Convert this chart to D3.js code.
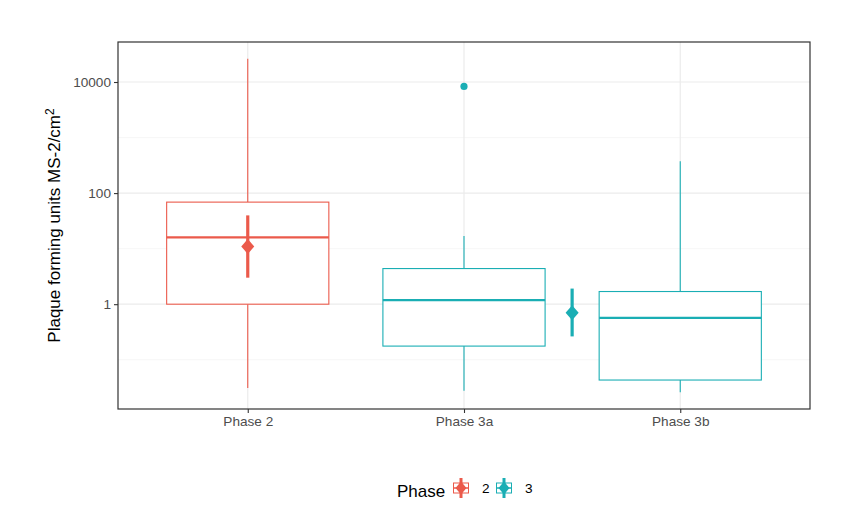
<!DOCTYPE html>
<html>
<head>
<meta charset="utf-8">
<script src="https://cdn.jsdelivr.net/npm/d3@7"></script>
<style>
  body { margin: 0; background: #fff; }
  svg { font-family: "Liberation Sans", Arial, sans-serif; }
</style>
</head>
<body>
<div id="canvas"></div>
<script>
// box summaries (log scale)
const phases = ['Phase 2', 'Phase 3a', 'Phase 3b'];
const phaseGroup = ['2', '3', '3'];
const whiskerLow = [0.031, 0.0277, 0.0259];
const q1 = [1.0, 0.176, 0.0431];
const median = [16, 1.18, 0.567];
const q3 = [68.8, 4.38, 1.69];
const whiskerHigh = [26300, 16.9, 375];
const outliers = [[], [8340], []];

// mean +- CI per phase group
const groups = ['2', '3'];
const groupMean = [10.9, 0.698];
const groupLow = [3.0, 0.263];
const groupHigh = [39.7, 1.91];

const yTicks = [1, 100, 10000];
const yMinor = [0.1, 10, 1000];

const colors = { '2': '#EB5A4B', '3': '#1AAEB4' };

const w = 848;
const h = 510;
const pLeft = 118, pRight = 810, pTop = 42, pBottom = 409;

const svg = d3.select('#canvas')
  .append('svg')
  .attr('width', w)
  .attr('height', h);

const xScale = d3.scalePoint()
  .domain(phases)
  .range([pLeft, pRight])
  .padding(0.6);
const step = xScale.step();

// ggplot style 5% expansion in log space
const lo = Math.log10(d3.min(whiskerLow));
const hi = Math.log10(d3.max(whiskerHigh.concat(outliers.flat())));
const pad = (hi - lo) * 0.05;
const yScale = d3.scaleLog()
  .domain([Math.pow(10, lo - pad), Math.pow(10, hi + pad)])
  .range([pBottom, pTop]);

// grid
const grid = svg.append('g');
grid.selectAll('.minor')
  .data(yMinor)
  .enter()
  .append('line')
  .attr('x1', pLeft).attr('x2', pRight)
  .attr('y1', d => yScale(d)).attr('y2', d => yScale(d))
  .attr('stroke', '#F2F2F2')
  .attr('stroke-width', 0.7);
grid.selectAll('.major')
  .data(yTicks)
  .enter()
  .append('line')
  .attr('x1', pLeft).attr('x2', pRight)
  .attr('y1', d => yScale(d)).attr('y2', d => yScale(d))
  .attr('stroke', '#EBEBEB')
  .attr('stroke-width', 1.2);
grid.selectAll('.vmajor')
  .data(phases)
  .enter()
  .append('line')
  .attr('x1', d => xScale(d)).attr('x2', d => xScale(d))
  .attr('y1', pTop).attr('y2', pBottom)
  .attr('stroke', '#EBEBEB')
  .attr('stroke-width', 1.2);

// boxplots
const boxes = svg.selectAll('.box')
  .data(phases.map((p, i) => ({
    p: p, g: phaseGroup[i], wl: whiskerLow[i], q1: q1[i], med: median[i],
    q3: q3[i], wh: whiskerHigh[i], out: outliers[i]
  })))
  .enter()
  .append('g')
  .attr('class', 'box');
const bw = step * 0.75;

boxes.append('line')
  .attr('x1', d => xScale(d.p)).attr('x2', d => xScale(d.p))
  .attr('y1', d => yScale(d.q3)).attr('y2', d => yScale(d.wh))
  .attr('stroke', d => colors[d.g]).attr('stroke-width', 1.1);
boxes.append('line')
  .attr('x1', d => xScale(d.p)).attr('x2', d => xScale(d.p))
  .attr('y1', d => yScale(d.q1)).attr('y2', d => yScale(d.wl))
  .attr('stroke', d => colors[d.g]).attr('stroke-width', 1.1);
boxes.append('rect')
  .attr('x', d => xScale(d.p) - bw / 2)
  .attr('width', bw)
  .attr('y', d => yScale(d.q3))
  .attr('height', d => yScale(d.q1) - yScale(d.q3))
  .attr('fill', '#fff')
  .attr('stroke', d => colors[d.g]).attr('stroke-width', 1.1);
boxes.append('line')
  .attr('x1', d => xScale(d.p) - bw / 2).attr('x2', d => xScale(d.p) + bw / 2)
  .attr('y1', d => yScale(d.med)).attr('y2', d => yScale(d.med))
  .attr('stroke', d => colors[d.g]).attr('stroke-width', 2.3);
boxes.selectAll('circle')
  .data(d => d.out.map(v => ({ v: v, p: d.p, g: d.g })))
  .enter()
  .append('circle')
  .attr('cx', d => xScale(d.p))
  .attr('cy', d => yScale(d.v))
  .attr('r', 3.6)
  .attr('fill', d => colors[d.g]);

// mean point ranges, placed between the phases of each group
const diamond = 'M0,-7.5L6.5,0L0,7.5L-6.5,0Z';
const means = svg.selectAll('.mean')
  .data(groups.map((g, i) => ({
    g: g, m: groupMean[i], lo: groupLow[i], hi: groupHigh[i],
    x: d3.mean(phases.filter((p, j) => phaseGroup[j] === g), p => xScale(p))
  })))
  .enter()
  .append('g')
  .attr('class', 'mean');
means.append('line')
  .attr('x1', d => d.x).attr('x2', d => d.x)
  .attr('y1', d => yScale(d.lo)).attr('y2', d => yScale(d.hi))
  .attr('stroke', d => colors[d.g]).attr('stroke-width', 3.2);
means.append('path')
  .attr('d', diamond)
  .attr('transform', d => 'translate(' + d.x + ',' + yScale(d.m) + ')')
  .attr('fill', d => colors[d.g]);

// panel border
svg.append('rect')
  .attr('x', pLeft).attr('y', pTop)
  .attr('width', pRight - pLeft).attr('height', pBottom - pTop)
  .attr('fill', 'none')
  .attr('stroke', '#333')
  .attr('stroke-width', 1.2);

// axes
const xAxis = d3.axisBottom(xScale).tickSize(4).tickPadding(3);
const yAxis = d3.axisLeft(yScale).tickValues(yTicks).tickFormat(d3.format('d')).tickSize(4).tickPadding(3);

const gx = svg.append('g')
  .attr('transform', 'translate(0,' + pBottom + ')')
  .call(xAxis);
const gy = svg.append('g')
  .attr('transform', 'translate(' + pLeft + ',0)')
  .call(yAxis);
[gx, gy].forEach(g => {
  g.select('.domain').remove();
  g.selectAll('line').attr('stroke', '#333').attr('stroke-width', 1.1);
  g.selectAll('text')
    .attr('fill', '#4D4D4D')
    .style('font-size', '13.6px')
    .style('font-family', '"Liberation Sans", Arial, sans-serif');
});

// y title
const yt = svg.append('text')
  .attr('transform', 'translate(60,' + ((pTop + pBottom) / 2) + ') rotate(-90)')
  .style('text-anchor', 'middle')
  .style('font-size', '17px')
  .attr('fill', '#000')
  .text('Plaque forming units MS-2/cm');
yt.append('tspan')
  .attr('dy', '-0.5em')
  .style('font-size', '12px')
  .text('2');

// legend
const legend = svg.append('g');
legend.append('text')
  .attr('x', 397).attr('y', 497)
  .style('font-size', '17px')
  .text('Phase');
const keys = legend.selectAll('.key')
  .data(groups)
  .enter()
  .append('g')
  .attr('transform', (d, i) => 'translate(' + (451 + i * 43) + ',478)');
const ks = 20;
keys.append('rect')
  .attr('x', ks * 0.125).attr('y', ks * 0.25)
  .attr('width', ks * 0.75).attr('height', ks * 0.5)
  .attr('fill', '#fff')
  .attr('stroke', d => colors[d]).attr('stroke-width', 1);
keys.append('line')
  .attr('x1', ks * 0.125).attr('x2', ks * 0.875)
  .attr('y1', ks / 2).attr('y2', ks / 2)
  .attr('stroke', d => colors[d]).attr('stroke-width', 1.5);
keys.append('line')
  .attr('x1', ks / 2).attr('x2', ks / 2)
  .attr('y1', 0).attr('y2', ks)
  .attr('stroke', d => colors[d]).attr('stroke-width', 3);
keys.append('path')
  .attr('d', 'M0,-6.5L5.5,0L0,6.5L-5.5,0Z')
  .attr('transform', 'translate(' + ks / 2 + ',' + ks / 2 + ')')
  .attr('fill', d => colors[d]);
keys.append('text')
  .attr('x', ks + 11).attr('y', ks / 2 + 5)
  .style('font-size', '13.6px')
  .text(d => d);
</script>
</body>
</html>
